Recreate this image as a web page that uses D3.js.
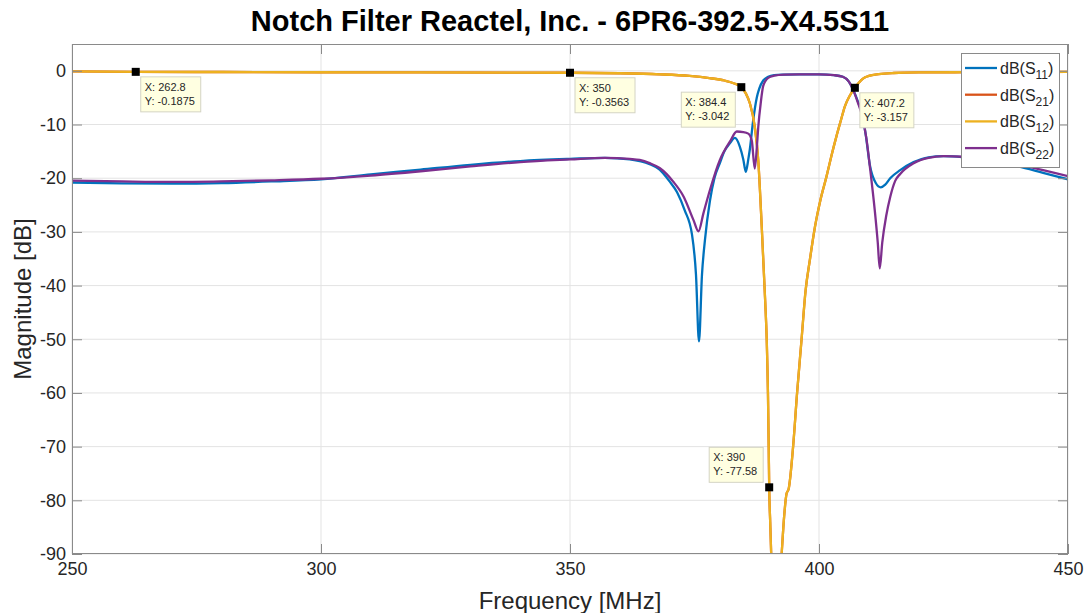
<!DOCTYPE html>
<html>
<head>
<meta charset="utf-8">
<script src="https://cdn.jsdelivr.net/npm/d3@7"></script>
<style>
  html, body { margin: 0; padding: 0; background: #fff; }
  svg { display: block; font-family: "Liberation Sans", Arial, Helvetica, sans-serif; }
</style>
</head>
<body>
<svg id="chart" width="1087" height="613"></svg>
<script>
// ---------------- DATA ----------------
const titleText = "Notch Filter Reactel, Inc. - 6PR6-392.5-X4.5S11";
const xLabelText = "Frequency [MHz]";
const yLabelText = "Magnitude [dB]";
const xTicks = [250, 300, 350, 400, 450];
const yTicks = [0, -10, -20, -30, -40, -50, -60, -70, -80, -90];
const seriesNames = ["11", "21", "12", "22"];   // dB(S_xx)

const freqS11 = [250, 260, 270, 280, 290, 300, 310, 320, 330, 340, 350, 357, 362, 366, 368, 370, 371.5, 373, 374.5, 375.3, 375.9, 376.5, 377.1, 378.1, 379, 380.1, 381, 382.1, 383.1, 384.1, 384.8, 385.3, 385.8, 386.1, 386.8, 387.5, 388, 388.8, 389.8, 391, 393, 396, 400, 403, 404.8, 406, 406.8, 407.8, 408.6, 409.4, 410.2, 411.4, 412.4, 413.3, 414.3, 416.3, 419, 422, 425, 429, 434, 440, 445, 450];
const dbS11 = [-20.8, -20.95, -21.0, -20.9, -20.6, -20.2, -19.3, -18.4, -17.5, -16.8, -16.4, -16.2, -16.5, -17.4, -18.4, -20.6, -22.6, -25.9, -30.5, -38, -50.4, -38, -31.5, -24.2, -20, -17.2, -15.0, -13.5, -12.5, -14.1, -16.5, -18.8, -16.5, -14.7, -9.1, -5.0, -3.3, -1.8, -1.1, -0.8, -0.7, -0.65, -0.65, -0.8, -1.1, -2.0, -3.4, -5.7, -7.8, -12, -17.5, -20.9, -21.7, -21.2, -20.0, -18.5, -17, -16.1, -15.9, -16.1, -16.7, -17.8, -19.0, -20.2];

const freqS22 = [250, 260, 270, 280, 290, 300, 310, 320, 330, 340, 350, 357, 362, 364, 366, 368, 370.7, 372.8, 374.8, 375.8, 376.8, 378.1, 380.1, 382.1, 383.5, 384.8, 385.8, 386.5, 387.1, 387.5, 387.8, 388.3, 388.8, 389.8, 391, 393, 396, 400, 403, 404.8, 406, 406.8, 407.8, 408.6, 409.5, 410.3, 411.2, 411.8, 412.2, 412.7, 413.5, 414.3, 415.3, 416.3, 419, 422, 425, 429, 434, 440, 445, 450];
const dbS22 = [-20.45, -20.6, -20.7, -20.6, -20.4, -20.1, -19.5, -18.7, -17.8, -17.0, -16.5, -16.2, -16.4, -16.6, -17.2, -18.1, -20.6, -23.4, -27.8, -29.9, -26.5, -22.2, -16.6, -13.2, -11.3, -11.4, -11.7, -13.0, -18.2, -14.5, -10.5, -6.0, -2.8, -1.3, -0.9, -0.7, -0.65, -0.65, -0.8, -1.1, -2.0, -3.4, -5.9, -8.2, -12.5, -18.5, -26, -32, -36.8, -32, -27, -23.5, -20.5, -19.2, -17.2, -16.2, -15.9, -16.0, -16.5, -17.4, -18.5, -19.6];

const freqS12 = [250, 262.8, 280, 300, 320, 340, 350, 360, 368, 374, 378, 381, 383, 384.4, 385.3, 386.1, 387.1, 387.8, 388.5, 389.2, 389.5, 389.75, 389.9, 390, 390.2, 390.4, 391.0, 391.8, 392.5, 393, 393.5, 393.9, 394.8, 395.6, 396.5, 397.3, 398.2, 399.2, 400.3, 401.5, 402.5, 403.5, 404.4, 405.2, 406.2, 407.2, 408, 408.9, 410, 412, 415, 420, 430, 440, 450];
const dbS12 = [-0.1, -0.1875, -0.22, -0.26, -0.29, -0.33, -0.3563, -0.45, -0.65, -0.95, -1.35, -1.8, -2.35, -3.042, -4.2, -6.0, -10.4, -16.6, -29, -43, -50, -60, -70, -77.58, -84, -90, -100, -100, -90, -83, -78.7, -77.9, -70, -60, -50, -41, -35, -29, -24, -19.7, -15.8, -12.2, -9.2, -6.6, -4.6, -3.157, -2.2, -1.4, -0.95, -0.6, -0.4, -0.3, -0.25, -0.22, -0.2];

// S21 is drawn underneath S12 and coincides with it in the picture
const freqS21 = [250, 262.8, 280, 300, 320, 340, 350, 360, 368, 374, 378, 381, 383, 384.4, 385.3, 386.1, 387.1, 387.8, 388.5, 389.2, 389.5, 389.75, 389.9, 390, 390.2, 390.4, 391.0, 391.8, 392.5, 393, 393.5, 393.9, 394.8, 395.6, 396.5, 397.3, 398.2, 399.2, 400.3, 401.5, 402.5, 403.5, 404.4, 405.2, 406.2, 407.2, 408, 408.9, 410, 412, 415, 420, 430, 440, 450];
const dbS21 = [-0.1, -0.1875, -0.22, -0.26, -0.29, -0.33, -0.3563, -0.45, -0.65, -0.95, -1.35, -1.8, -2.35, -3.042, -4.2, -6.0, -10.4, -16.6, -29, -43, -50, -60, -70, -77.58, -84, -90, -100, -100, -90, -83, -78.7, -77.9, -70, -60, -50, -41, -35, -29, -24, -19.7, -15.8, -12.2, -9.2, -6.6, -4.6, -3.157, -2.2, -1.4, -0.95, -0.6, -0.4, -0.3, -0.25, -0.22, -0.2];

// Data tips
const tipX = [262.8, 350, 384.4, 407.2, 390];
const tipY = [-0.1875, -0.3563, -3.042, -3.157, -77.58];
const tipXText = ["262.8", "350", "384.4", "407.2", "390"];
const tipYText = ["-0.1875", "-0.3563", "-3.042", "-3.157", "-77.58"];

// ---------------- LAYOUT / STYLE ----------------
const tipPlacement = ["se", "se", "sw", "se", "nw"];
const colors = ["#0072BD", "#D95319", "#EDB120", "#7E2F8E"];
const W = 1087, H = 613;
const margin = { left: 72, right: 19, top: 44, bottom: 59 };
const pw = W - margin.left - margin.right;
const ph = H - margin.top - margin.bottom;
const axisColor = "#8a8a8a";
const textColor = "#262626";

const svg = d3.select("#chart");
const x = d3.scaleLinear().domain([250, 450]).range([margin.left, margin.left + pw]);
const y = d3.scaleLinear().domain([-90, 5]).range([margin.top + ph, margin.top]);

svg.append("defs").append("clipPath").attr("id", "clip")
  .append("rect").attr("x", margin.left).attr("y", margin.top).attr("width", pw).attr("height", ph);

svg.append("rect").attr("x", margin.left).attr("y", margin.top).attr("width", pw).attr("height", ph).attr("fill", "#fff");

// grid
const grid = svg.append("g");
grid.selectAll(".gx").data(xTicks).enter().append("line")
  .attr("x1", d => x(d)).attr("x2", d => x(d)).attr("y1", margin.top).attr("y2", margin.top + ph)
  .attr("stroke", "#e3e3e3").attr("stroke-width", 1);
grid.selectAll(".gy").data(yTicks).enter().append("line")
  .attr("y1", d => y(d)).attr("y2", d => y(d)).attr("x1", margin.left).attr("x2", margin.left + pw)
  .attr("stroke", "#e3e3e3").attr("stroke-width", 1);

// lines
const line = d3.line().x(d => x(d[0])).y(d => y(d[1])).curve(d3.curveMonotoneX);
const series = [
  d3.zip(freqS11, dbS11),
  d3.zip(freqS21, dbS21),
  d3.zip(freqS12, dbS12),
  d3.zip(freqS22, dbS22)
];
const plotG = svg.append("g").attr("clip-path", "url(#clip)");
series.forEach((s, i) => {
  plotG.append("path").datum(s).attr("d", line)
    .attr("fill", "none").attr("stroke", colors[i]).attr("stroke-width", 2.3)
    .attr("stroke-linejoin", "round");
});

// axes (inward ticks, MATLAB style box)
const tickLen = 10;
const fmt = d => String(d);
function styleAxis(g) {
  g.select(".domain").remove();
  g.selectAll(".tick line").attr("stroke", axisColor);
  g.selectAll(".tick text").attr("fill", textColor).style("font-size", "18px")
    .style("font-family", "'Liberation Sans', Arial, sans-serif");
}
svg.append("g").attr("transform", `translate(0,${margin.top + ph})`)
  .call(d3.axisBottom(x).tickValues(xTicks).tickSizeInner(-tickLen).tickSizeOuter(0).tickPadding(8).tickFormat(fmt))
  .call(styleAxis);
svg.append("g").attr("transform", `translate(0,${margin.top})`)
  .call(d3.axisTop(x).tickValues(xTicks).tickSizeInner(-tickLen).tickSizeOuter(0).tickFormat(""))
  .call(styleAxis);
svg.append("g").attr("transform", `translate(${margin.left},0)`)
  .call(d3.axisLeft(y).tickValues(yTicks).tickSizeInner(-tickLen).tickSizeOuter(0).tickPadding(6).tickFormat(fmt))
  .call(styleAxis);
svg.append("g").attr("transform", `translate(${margin.left + pw},0)`)
  .call(d3.axisRight(y).tickValues(yTicks).tickSizeInner(-tickLen).tickSizeOuter(0).tickFormat(""))
  .call(styleAxis);

// box
svg.append("rect").attr("x", margin.left + 0.5).attr("y", margin.top + 0.5)
  .attr("width", pw - 1).attr("height", ph - 1)
  .attr("fill", "none").attr("stroke", axisColor).attr("stroke-width", 1);

// title & labels
svg.append("text").attr("x", margin.left + pw / 2).attr("y", 31).attr("text-anchor", "middle")
  .attr("fill", "#000").style("font-size", "29px").style("font-weight", "bold").text(titleText);
svg.append("text").attr("x", margin.left + pw / 2).attr("y", 609).attr("text-anchor", "middle")
  .attr("fill", textColor).style("font-size", "24px").text(xLabelText);
svg.append("text").attr("transform", `translate(31,${margin.top + ph / 2}) rotate(-90)`).attr("text-anchor", "middle")
  .attr("fill", textColor).style("font-size", "24px").text(yLabelText);

// data tips
const tipsG = svg.append("g");
tipX.forEach((tx, i) => {
  const mx = x(tx), my = y(tipY[i]);
  const g = tipsG.append("g");
  const t1 = "X: " + tipXText[i], t2 = "Y: " + tipYText[i];
  const txt = g.append("text").style("font-size", "11px").attr("fill", textColor);
  txt.append("tspan").attr("x", 0).attr("y", 0).text(t1);
  txt.append("tspan").attr("x", 0).attr("y", 14).text(t2);
  const bb = txt.node().getBBox();
  const bw = Math.ceil(bb.width) + 9, bh = 35;
  const p = tipPlacement[i];
  const bx = p.includes("e") ? mx + 5 : mx - 6 - bw;
  const by = p.includes("s") ? my + 5 : my - 5 - bh;
  g.insert("rect", "text").attr("x", bx).attr("y", by).attr("width", bw).attr("height", bh)
    .attr("fill", "#ffffe1").attr("stroke", "#d4d4c4").attr("stroke-width", 1);
  txt.attr("transform", `translate(${bx + 4},${by + 14})`);
  tipsG.append("rect").attr("x", mx - 4).attr("y", my - 4).attr("width", 8).attr("height", 8).attr("fill", "#000");
});

// legend
const lg = svg.append("g");
const lx = 961, ly = 53, lw = 98, lh = 114;
lg.append("rect").attr("x", lx + 0.5).attr("y", ly + 0.5).attr("width", lw).attr("height", lh)
  .attr("fill", "#fff").attr("stroke", axisColor).attr("stroke-width", 1);
seriesNames.forEach((n, i) => {
  const cy = ly + 15 + i * 26.7;
  lg.append("line").attr("x1", lx + 4).attr("x2", lx + 36).attr("y1", cy).attr("y2", cy)
    .attr("stroke", colors[i]).attr("stroke-width", 2.3);
  const t = lg.append("text").attr("x", lx + 39).attr("y", cy + 6).attr("fill", textColor).style("font-size", "16px");
  t.append("tspan").text("dB(S");
  t.append("tspan").attr("dy", 5).style("font-size", "12px").text(n);
  t.append("tspan").attr("dy", -5).text(")");
});
</script>
</body>
</html>
